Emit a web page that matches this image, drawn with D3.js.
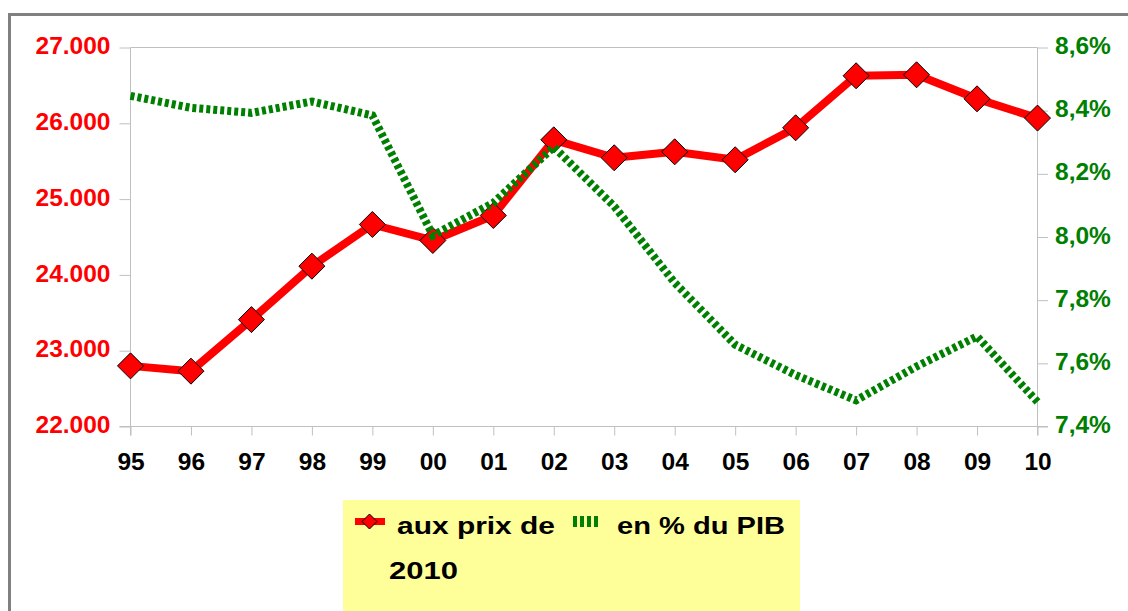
<!DOCTYPE html>
<html>
<head>
<meta charset="utf-8">
<script src="https://cdn.jsdelivr.net/npm/d3@7"></script>
<style>
  html, body { margin: 0; padding: 0; background: #ffffff; }
  svg { display: block; }
  text { font-family: "Liberation Sans", Arial, sans-serif; font-weight: bold; }
</style>
</head>
<body>
<svg id="chart" width="1128" height="611"></svg>
<script>
// ---- data ----
const years = ["95","96","97","98","99","00","01","02","03","04","05","06","07","08","09","10"];
const prix2010 = [22800, 22730, 23410, 24115, 24665, 24454, 24784, 25782, 25545, 25624, 25519, 25941, 26627, 26640, 26323, 26069];
const pctPIB = [8.447, 8.409, 8.393, 8.429, 8.385, 8.005, 8.108, 8.285, 8.097, 7.855, 7.659, 7.563, 7.483, 7.590, 7.685, 7.478];
const leftTicks = [22000, 23000, 24000, 25000, 26000, 27000];
const rightTicks = [7.4, 7.6, 7.8, 8.0, 8.2, 8.4, 8.6];
const legendLabels = ["aux prix de", "2010", "en % du PIB"];

// ---- layout ----
const svg = d3.select("#chart");
const plot = { left: 130.5, right: 1037.5, top: 47.5, bottom: 426.5 };
const RED = "#ff0000", GREEN = "#008000", AXIS = "#c0c0c0";

const locale = d3.formatLocale({ decimal: ",", thousands: ".", grouping: [3], currency: ["", "€"] });
const fmtLeft = locale.format(",.0f");
const fmtRight = locale.format(".1f");

const x = d3.scalePoint().domain(years).range([plot.left, plot.right]);
const yL = d3.scaleLinear().domain([22000, 27000]).range([plot.bottom, plot.top]);
const yR = d3.scaleLinear().domain([7.4, 8.6]).range([plot.bottom, plot.top]);

// background + outer frame
svg.append("rect").attr("x", 0).attr("y", 0).attr("width", 1128).attr("height", 611).attr("fill", "#fff");
svg.append("rect").attr("x", 9.5).attr("y", 14.5).attr("width", 1300).attr("height", 800)
  .attr("fill", "none").attr("stroke", "#808080").attr("stroke-width", 3);

// plot top border
svg.append("line").attr("x1", plot.left).attr("x2", plot.right).attr("y1", plot.top).attr("y2", plot.top)
  .attr("stroke", AXIS).attr("stroke-width", 1);

// axes
function styleAxis(g, color) {
  g.selectAll(".domain").attr("stroke", AXIS);
  g.selectAll(".tick line").attr("stroke", AXIS);
  g.selectAll(".tick text").attr("fill", color).style("font-size", "24.5px")
    .style("font-family", '"Liberation Sans", Arial, sans-serif').style("font-weight", "bold");
}

const gL = svg.append("g").attr("transform", `translate(${plot.left},0)`)
  .call(d3.axisLeft(yL).tickValues(leftTicks).tickFormat(fmtLeft).tickSize(11).tickPadding(9).tickSizeOuter(0));
styleAxis(gL, RED);
gL.selectAll(".tick text").attr("dy", "0.25em");

const gR = svg.append("g").attr("transform", `translate(${plot.right},0)`)
  .call(d3.axisRight(yR).tickValues(rightTicks).tickFormat(d => fmtRight(d) + "%").tickSize(10.5).tickPadding(7).tickSizeOuter(0));
styleAxis(gR, GREEN);
gR.selectAll(".tick text").attr("dy", "0.25em");

const gX = svg.append("g").attr("transform", `translate(0,${plot.bottom})`)
  .call(d3.axisBottom(x).tickSize(9).tickPadding(17.5).tickSizeOuter(0));
styleAxis(gX, "#000");
gL.select(".domain").attr("d", `M0,${plot.top}V${plot.bottom + 9}`);
gR.select(".domain").attr("d", `M0,${plot.top}V${plot.bottom + 9}`);
gX.select(".domain").attr("d", `M${plot.left - 11},0H${plot.right + 10.5}`);

// red series
const lineL = d3.line().x((d, i) => x(years[i])).y(d => yL(d));
svg.append("path").datum(prix2010).attr("d", lineL)
  .attr("fill", "none").attr("stroke", RED).attr("stroke-width", 8).attr("stroke-linejoin", "round");

const diamond = (cx, cy, r) => `M${cx},${cy - r}L${cx + r},${cy}L${cx},${cy + r}L${cx - r},${cy}Z`;
svg.append("g").selectAll("path").data(prix2010).join("path")
  .attr("d", (d, i) => diamond(x(years[i]), yL(d), 13))
  .attr("fill", RED).attr("stroke", "#000").attr("stroke-width", 1);

// green series (dashed)
const lineR = d3.line().x((d, i) => x(years[i])).y(d => yR(d));
svg.append("path").datum(pctPIB).attr("d", lineR)
  .attr("fill", "none").attr("stroke", GREEN).attr("stroke-width", 8)
  .attr("stroke-dasharray", "4,3").attr("stroke-linejoin", "miter");

// legend
const lg = svg.append("g");
lg.append("rect").attr("x", 343).attr("y", 500).attr("width", 457).attr("height", 150).attr("fill", "#ffff99");
lg.append("line").attr("x1", 355).attr("x2", 385).attr("y1", 521.5).attr("y2", 521.5)
  .attr("stroke", RED).attr("stroke-width", 7);
lg.append("path").attr("d", diamond(369.5, 521.5, 7.5)).attr("fill", RED).attr("stroke", "#000").attr("stroke-width", 1);
lg.append("line").attr("x1", 573).attr("x2", 599).attr("y1", 521.5).attr("y2", 521.5)
  .attr("stroke", GREEN).attr("stroke-width", 11).attr("stroke-dasharray", "4,3");

const legText = [
  { t: legendLabels[0], x: 397, y: 534, w: 158 },
  { t: legendLabels[1], x: 389, y: 579, w: 69 },
  { t: legendLabels[2], x: 617, y: 534, w: 168 }
];
lg.selectAll("text").data(legText).join("text")
  .attr("x", d => d.x).attr("y", d => d.y)
  .attr("textLength", d => d.w).attr("lengthAdjust", "spacingAndGlyphs")
  .style("font-size", "24px").attr("fill", "#000")
  .text(d => d.t);
</script>
</body>
</html>
